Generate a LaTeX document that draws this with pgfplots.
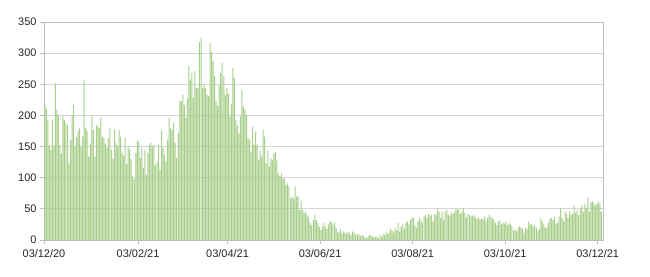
\documentclass[border=0pt]{standalone}
\usepackage{pgfplots}
\pgfplotsset{compat=1.18}
\usepackage{fontspec}
\setmainfont{Liberation Sans}
\definecolor{barg}{RGB}{168,207,140}
\definecolor{gridc}{RGB}{214,214,214}
\definecolor{axc}{RGB}{190,190,190}
\begin{document}
\begin{tikzpicture}
\useasboundingbox (-44bp,-37bp) rectangle (606bp,240bp);
\begin{axis}[
  at={(0,0)}, anchor=south west,
  scale only axis, width=559bp, height=218bp,
  xmin=0, xmax=368.5, ymin=0, ymax=350,
  ytick={0,50,...,350},
  xtick={0,62,121,182,243,304,365},
  xticklabels={03/12/20,03/02/21,03/04/21,03/06/21,03/08/21,03/10/21,03/12/21},
  ymajorgrids, grid style={gridc, line width=0.8bp},
  axis line style={axc, line width=0.8bp},
  tick style={axc, line width=0.8bp},
  major tick length=4bp,
  tick align=outside, xtick pos=bottom, ytick pos=left,
  ticklabel style={font=\fontsize{11}{13}\selectfont, text=black!85},
  xticklabel style={yshift=-2bp},
  /pgf/number format/assume math mode=true,
]
\addplot[ybar, bar width=0.66, fill=barg, draw=none]
  table[row sep=\\, x expr=\coordindex+0.5, y index=0] {
y\\
219\\211\\193\\152\\145\\193\\152\\252\\209\\201\\
152\\139\\199\\193\\188\\185\\123\\160\\201\\217\\
150\\165\\175\\180\\150\\166\\257\\180\\175\\134\\
155\\201\\177\\134\\185\\182\\180\\197\\166\\164\\
155\\148\\163\\180\\145\\130\\177\\155\\150\\177\\
166\\140\\135\\164\\122\\150\\145\\130\\102\\98\\
140\\160\\
158\\132\\148\\116\\145\\105\\140\\153\\156\\150\\
153\\121\\126\\153\\113\\177\\148\\137\\126\\161\\
197\\180\\177\\188\\156\\132\\172\\223\\223\\233\\
217\\196\\228\\279\\257\\268\\228\\271\\244\\244\\
318\\324\\244\\249\\244\\233\\231\\316\\303\\287\\
263\\223\\215\\249\\268\\284\\263\\233\\244\\
235\\198\\219\\276\\260\\193\\185\\171\\198\\241\\
214\\209\\201\\163\\161\\142\\182\\153\\174\\153\\
128\\144\\134\\177\\166\\123\\144\\118\\131\\128\\
139\\142\\128\\107\\102\\107\\99\\99\\88\\91\\
86\\67\\70\\67\\86\\70\\70\\48\\63\\48\\
43\\45\\40\\37\\27\\24\\32\\40\\32\\27\\
21\\16\\21\\
28\\22\\18\\25\\30\\29\\25\\28\\20\\13\\
12\\18\\10\\14\\12\\10\\14\\11\\8\\14\\
12\\8\\10\\9\\6\\8\\7\\4\\3\\5\\
8\\7\\6\\4\\5\\6\\3\\8\\5\\10\\
8\\14\\10\\12\\18\\15\\12\\20\\15\\28\\
14\\22\\25\\18\\28\\30\\25\\32\\35\\36\\
24\\20\\30\\35\\32\\28\\38\\40\\35\\42\\
38\\40\\30\\42\\40\\50\\45\\35\\45\\32\\
46\\48\\40\\38\\44\\42\\45\\50\\48\\50\\
42\\45\\52\\44\\36\\42\\40\\38\\38\\40\\
36\\34\\36\\32\\35\\33\\38\\30\\36\\40\\
37\\35\\33\\28\\24\\30\\32\\25\\28\\26\\
30\\24\\27\\
25\\22\\15\\18\\14\\20\\22\\20\\18\\12\\
20\\18\\29\\25\\26\\22\\24\\20\\15\\18\\
36\\30\\25\\20\\20\\28\\34\\35\\32\\37\\
25\\28\\38\\51\\35\\30\\46\\42\\35\\45\\
40\\42\\55\\44\\48\\40\\50\\56\\45\\58\\
52\\68\\45\\60\\62\\60\\55\\58\\62\\58\\
45\\
};
\end{axis}
\end{tikzpicture}
\end{document}
